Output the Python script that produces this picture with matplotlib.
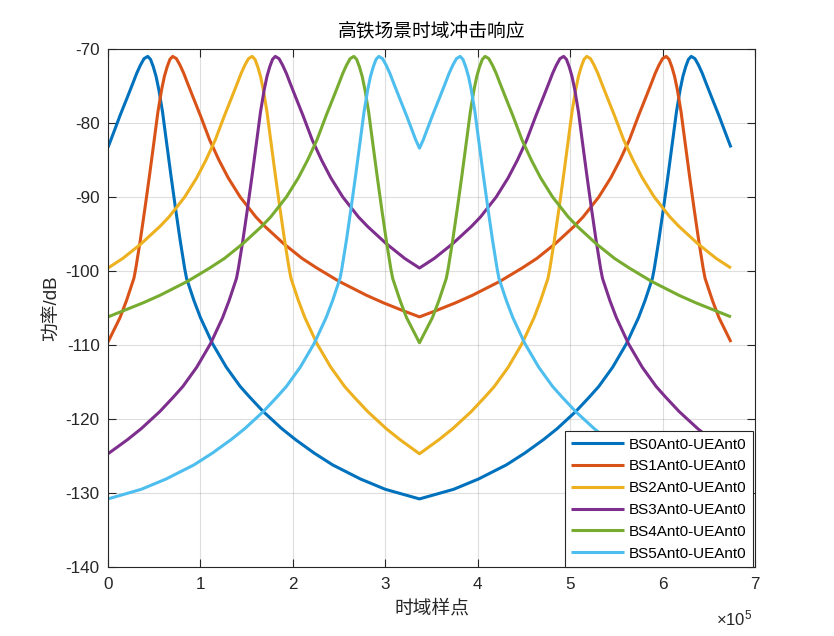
import matplotlib
matplotlib.use("Agg")
import matplotlib.pyplot as plt
from matplotlib.ticker import FuncFormatter

plt.rcParams['font.family'] = ['Liberation Sans', 'Noto Sans CJK SC', 'DejaVu Sans']
plt.rcParams['axes.unicode_minus'] = False
plt.rcParams['mathtext.fontset'] = 'custom'
plt.rcParams['mathtext.rm'] = 'Liberation Sans'
plt.rcParams['mathtext.it'] = 'Liberation Sans'

X_UNIT = 1e5

title = "高铁场景时域冲击响应"
xlabel = "时域样点"
ylabel = "功率/dB"
x_exponent_label = r"$\times10^{5}$"
labels = ["BS0Ant0-UEAnt0", "BS1Ant0-UEAnt0", "BS2Ant0-UEAnt0",
          "BS3Ant0-UEAnt0", "BS4Ant0-UEAnt0", "BS5Ant0-UEAnt0"]
colors = ["#0072BD", "#D95319", "#EDB120", "#7E2F8E", "#77AC30", "#4DBEEE"]

xticks = [0, 1, 2, 3, 4, 5, 6, 7]
yticks = [-140, -130, -120, -110, -100, -90, -80, -70]

# x in units of 1e5 samples, y in dB
bs0_x = [0, 0.07, 0.13, 0.21, 0.27, 0.31, 0.35, 0.39, 0.43, 0.46, 0.49, 0.52, 0.55, 0.59, 0.63, 0.68, 0.73,
         0.78, 0.83, 0.85, 0.93, 1.00, 1.13, 1.28, 1.43, 1.53, 1.68, 1.88, 2.03, 2.23, 2.43, 2.73, 3.00, 3.37,
         3.74, 4.01, 4.31, 4.51, 4.71, 4.86, 5.06, 5.21, 5.31, 5.46, 5.61, 5.74, 5.81, 5.89, 5.91, 5.96, 6.01,
         6.06, 6.11, 6.15, 6.19, 6.22, 6.25, 6.28, 6.31, 6.35, 6.39, 6.43, 6.47, 6.53, 6.61, 6.67, 6.74]
bs0_y = [-83.3, -81.0, -79.0, -76.5, -74.6, -73.3, -72.2, -71.3, -71.0, -71.4, -72.4, -73.7, -75.5, -78.5, -82.3,
         -87.0, -91.5, -95.8, -99.7, -101.0, -104.0, -106.3, -109.8, -113.0, -115.6, -117.0, -119.0, -121.3,
         -122.8, -124.6, -126.2, -128.1, -129.5, -130.8,
         -129.5, -128.1, -126.2, -124.6, -122.8, -121.3, -119.0, -117.0, -115.6, -113.0, -109.8, -106.3, -104.0,
         -101.0, -99.7, -95.8, -91.5, -87.0, -82.3, -78.5, -75.5, -73.7, -72.4, -71.4, -71.0, -71.3, -72.2, -73.3,
         -74.6, -76.5, -79.0, -81.0, -83.3]

bs1_x = [0, 0.13, 0.20, 0.28, 0.30, 0.35, 0.40, 0.45, 0.50, 0.54, 0.58, 0.61, 0.64, 0.67, 0.70, 0.74, 0.78, 0.82,
         0.86, 0.92, 1.00, 1.10, 1.20, 1.30, 1.43, 1.60, 1.70, 1.90, 2.10, 2.26, 2.50, 2.80, 2.98, 3.20, 3.37,
         3.54, 3.76, 3.94, 4.24, 4.48, 4.64, 4.84, 5.04, 5.14, 5.31, 5.44, 5.54, 5.64, 5.74, 5.82, 5.88, 5.92,
         5.96, 6.00, 6.04, 6.07, 6.10, 6.13, 6.16, 6.20, 6.24, 6.29, 6.34, 6.39, 6.44, 6.46, 6.54, 6.61, 6.74]
bs1_y = [-109.6, -106.3, -104.0, -101.0, -99.7, -95.8, -91.5, -87.0, -82.3, -78.5, -75.5, -73.7, -72.4, -71.4,
         -71.0, -71.3, -72.2, -73.3, -74.6, -76.5, -79.0, -82.3, -85.0, -87.4, -90.0, -92.7, -94.0, -96.3, -98.3,
         -99.6, -101.4, -103.3, -104.3, -105.4, -106.2,
         -105.4, -104.3, -103.3, -101.4, -99.6, -98.3, -96.3, -94.0, -92.7, -90.0, -87.4, -85.0, -82.3, -79.0,
         -76.5, -74.6, -73.3, -72.2, -71.3, -71.0, -71.4, -72.4, -73.7, -75.5, -78.5, -82.3, -87.0, -91.5, -95.8,
         -99.7, -101.0, -104.0, -106.3, -109.6]

bs2_x = [0, 0.16, 0.36, 0.56, 0.66, 0.83, 0.96, 1.06, 1.16, 1.26, 1.34, 1.40, 1.44, 1.48, 1.52, 1.56, 1.59, 1.62,
         1.65, 1.68, 1.72, 1.76, 1.81, 1.86, 1.91, 1.96, 1.98, 2.06, 2.13, 2.26, 2.41, 2.56, 2.66, 2.81, 3.01,
         3.16, 3.37,
         3.58, 3.73, 3.93, 4.08, 4.18, 4.33, 4.48, 4.61, 4.68, 4.76, 4.78, 4.83, 4.88, 4.93, 4.98, 5.02, 5.06,
         5.09, 5.12, 5.15, 5.18, 5.22, 5.26, 5.30, 5.34, 5.40, 5.48, 5.58, 5.68, 5.78, 5.91, 6.08, 6.18, 6.38,
         6.58, 6.74]
bs2_y = [-99.6, -98.3, -96.3, -94.0, -92.7, -90.0, -87.4, -85.0, -82.3, -79.0, -76.5, -74.6, -73.3, -72.2, -71.3,
         -71.0, -71.4, -72.4, -73.7, -75.5, -78.5, -82.3, -87.0, -91.5, -95.8, -99.7, -101.0, -104.0, -106.3,
         -109.8, -113.0, -115.6, -117.0, -119.0, -121.3, -122.8, -124.7,
         -122.8, -121.3, -119.0, -117.0, -115.6, -113.0, -109.8, -106.3, -104.0, -101.0, -99.7, -95.8, -91.5,
         -87.0, -82.3, -78.5, -75.5, -73.7, -72.4, -71.4, -71.0, -71.3, -72.2, -73.3, -74.6, -76.5, -79.0, -82.3,
         -85.0, -87.4, -90.0, -92.7, -94.0, -96.3, -98.3, -99.6]

bs3_x = [0, 0.21, 0.36, 0.56, 0.71, 0.81, 0.96, 1.11, 1.24, 1.31, 1.39, 1.41, 1.46, 1.51, 1.56, 1.61, 1.65, 1.69,
         1.72, 1.75, 1.78, 1.81, 1.85, 1.89, 1.93, 1.97, 2.03, 2.11, 2.21, 2.31, 2.41, 2.54, 2.71, 2.81, 3.01,
         3.21, 3.37,
         3.53, 3.73, 3.93, 4.03, 4.20, 4.33, 4.43, 4.53, 4.63, 4.71, 4.77, 4.81, 4.85, 4.89, 4.93, 4.96, 4.99,
         5.02, 5.05, 5.09, 5.13, 5.18, 5.23, 5.28, 5.33, 5.35, 5.43, 5.50, 5.63, 5.78, 5.93, 6.03, 6.18, 6.38,
         6.53, 6.74]
bs3_y = [-124.7, -122.8, -121.3, -119.0, -117.0, -115.6, -113.0, -109.8, -106.3, -104.0, -101.0, -99.7, -95.8,
         -91.5, -87.0, -82.3, -78.5, -75.5, -73.7, -72.4, -71.4, -71.0, -71.3, -72.2, -73.3, -74.6, -76.5, -79.0,
         -82.3, -85.0, -87.4, -90.0, -92.7, -94.0, -96.3, -98.3, -99.6,
         -98.3, -96.3, -94.0, -92.7, -90.0, -87.4, -85.0, -82.3, -79.0, -76.5, -74.6, -73.3, -72.2, -71.3, -71.0,
         -71.4, -72.4, -73.7, -75.5, -78.5, -82.3, -87.0, -91.5, -95.8, -99.7, -101.0, -104.0, -106.3, -109.8,
         -113.0, -115.6, -117.0, -119.0, -121.3, -122.8, -124.7]

bs4_x = [0, 0.16, 0.38, 0.56, 0.86, 1.10, 1.26, 1.46, 1.66, 1.76, 1.93, 2.06, 2.16, 2.26, 2.36, 2.44, 2.50, 2.54,
         2.58, 2.62, 2.66, 2.69, 2.72, 2.75, 2.78, 2.82, 2.86, 2.91, 2.96, 3.01, 3.06, 3.08, 3.16, 3.23, 3.37,
         3.51, 3.58, 3.66, 3.68, 3.73, 3.78, 3.83, 3.88, 3.92, 3.96, 3.99, 4.02, 4.05, 4.08, 4.12, 4.16, 4.20,
         4.24, 4.30, 4.38, 4.48, 4.58, 4.68, 4.81, 4.98, 5.08, 5.28, 5.48, 5.64, 5.88, 6.18, 6.36, 6.58, 6.74]
bs4_y = [-106.2, -105.4, -104.3, -103.3, -101.4, -99.6, -98.3, -96.3, -94.0, -92.7, -90.0, -87.4, -85.0, -82.3,
         -79.0, -76.5, -74.6, -73.3, -72.2, -71.3, -71.0, -71.4, -72.4, -73.7, -75.5, -78.5, -82.3, -87.0, -91.5,
         -95.8, -99.7, -101.0, -104.0, -106.3, -109.7,
         -106.3, -104.0, -101.0, -99.7, -95.8, -91.5, -87.0, -82.3, -78.5, -75.5, -73.7, -72.4, -71.4, -71.0,
         -71.3, -72.2, -73.3, -74.6, -76.5, -79.0, -82.3, -85.0, -87.4, -90.0, -92.7, -94.0, -96.3, -98.3, -99.6,
         -101.4, -103.3, -104.3, -105.4, -106.2]

bs5_x = [0, 0.36, 0.63, 0.93, 1.13, 1.33, 1.48, 1.68, 1.83, 1.93, 2.08, 2.23, 2.36, 2.43, 2.51, 2.53, 2.58, 2.63,
         2.68, 2.73, 2.77, 2.81, 2.84, 2.87, 2.90, 2.93, 2.97, 3.01, 3.05, 3.09, 3.15, 3.23, 3.33, 3.37,
         3.41, 3.51, 3.59, 3.65, 3.69, 3.73, 3.77, 3.81, 3.84, 3.87, 3.90, 3.93, 3.97, 4.01, 4.06, 4.11, 4.16,
         4.21, 4.23, 4.31, 4.38, 4.51, 4.66, 4.81, 4.91, 5.06, 5.26, 5.41, 5.61, 5.81, 6.11, 6.38, 6.74]
bs5_y = [-130.8, -129.5, -128.1, -126.2, -124.6, -122.8, -121.3, -119.0, -117.0, -115.6, -113.0, -109.8, -106.3,
         -104.0, -101.0, -99.7, -95.8, -91.5, -87.0, -82.3, -78.5, -75.5, -73.7, -72.4, -71.4, -71.0, -71.3, -72.2,
         -73.3, -74.6, -76.5, -79.0, -82.3, -83.4,
         -82.3, -79.0, -76.5, -74.6, -73.3, -72.2, -71.3, -71.0, -71.4, -72.4, -73.7, -75.5, -78.5, -82.3, -87.0,
         -91.5, -95.8, -99.7, -101.0, -104.0, -106.3, -109.8, -113.0, -115.6, -117.0, -119.0, -121.3, -122.8,
         -124.6, -126.2, -128.1, -129.5, -130.8]

series_x = [bs0_x, bs1_x, bs2_x, bs3_x, bs4_x, bs5_x]
series_y = [bs0_y, bs1_y, bs2_y, bs3_y, bs4_y, bs5_y]

W, H = 834, 636
fig = plt.figure(figsize=(W / 100, H / 100), dpi=100)
ax = fig.add_axes([108 / W, 1 - 567 / H, 647 / W, 518 / H])

for xs, ys, c, lab in zip(series_x, series_y, colors, labels):
    ax.plot([v * X_UNIT for v in xs], ys, color=c, lw=2.2, label=lab,
            solid_joinstyle='round', solid_capstyle='butt')

ax.set_xlim(0, 7 * X_UNIT)
ax.set_ylim(-140, -70)
ax.set_xticks([t * X_UNIT for t in xticks])
ax.set_yticks(yticks)
ax.xaxis.set_major_formatter(FuncFormatter(lambda v, p: f"{v / X_UNIT:g}"))

dark = '#262626'
ax.grid(True, color='#262626', alpha=0.15, lw=0.8)
ax.set_axisbelow(True)
for s in ax.spines.values():
    s.set_color(dark)
    s.set_linewidth(0.8)
ax.tick_params(axis='both', direction='in', length=6, width=0.8, color=dark,
               labelcolor=dark, labelsize=12.3, top=True, right=True)
ax.tick_params(axis='x', pad=7)
ax.tick_params(axis='y', pad=6)

ax.text(0.9955, -0.099, x_exponent_label, transform=ax.transAxes,
        ha='right', va='center', fontsize=12, color=dark)

ax.set_title(title, fontsize=13.5, color='black', pad=9,
             fontfamily=['Noto Sans CJK SC'])
ax.set_xlabel(xlabel, fontsize=13.5, color=dark, labelpad=4,
              fontfamily=['Noto Sans CJK SC'])
ax.set_ylabel(ylabel, fontsize=13.5, color=dark, labelpad=3,
              fontfamily=['Liberation Sans', 'Noto Sans CJK SC'])

leg = ax.legend(loc='lower right', bbox_to_anchor=(0.997, 0.0), fontsize=11,
                frameon=True, fancybox=False, framealpha=1, edgecolor=dark,
                handlelength=3.5, handletextpad=0.3, labelspacing=0.51,
                borderpad=0.42, borderaxespad=0.0)
leg.get_frame().set_linewidth(0.8)
for t in leg.get_texts():
    t.set_color('black')

fig.savefig('out.png', dpi=100)
